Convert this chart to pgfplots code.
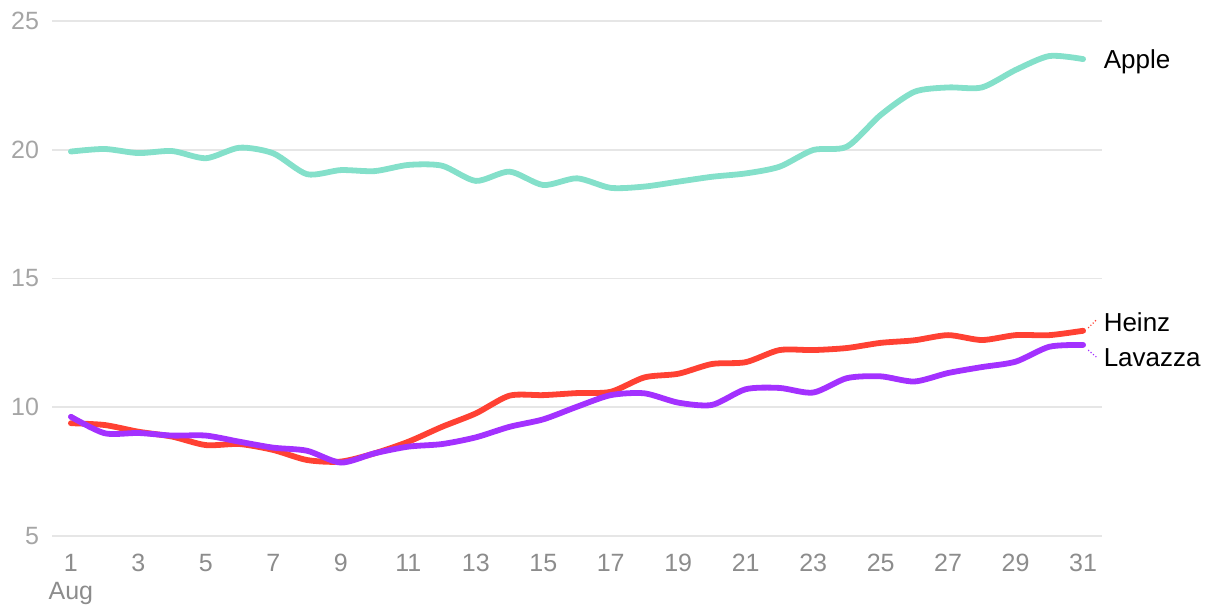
\documentclass[border=0pt]{standalone}
\usepackage{pgfplots}
\pgfplotsset{compat=1.18}
\usepackage{fontspec}
\setmainfont{Liberation Sans}
\definecolor{cApple}{HTML}{84E0CA}
\definecolor{cHeinz}{HTML}{FF4133}
\definecolor{cLav}{HTML}{A331FF}
\definecolor{gridc}{HTML}{E6E6E6}
\definecolor{ytc}{HTML}{A5A5A5}
\definecolor{xtc}{HTML}{8C8C8C}
\begin{document}
\begin{tikzpicture}
\begin{axis}[
  name=ax,
  scale only axis,
  width=525pt, height=257.5pt,
  xmin=0.44, xmax=31.56, ymin=5, ymax=25,
  xtick={1,3,...,31}, ytick={5,10,...,25},
  major tick length=0pt,
  axis line style={draw=none},
  ymajorgrids, xmajorgrids=false,
  grid style={gridc, line width=0.9pt},
  /pgf/number format/assume math mode=true,
  xticklabel style={anchor=center, yshift=-13.5pt, font=\fontsize{12.5}{14}\selectfont, text=xtc},
  yticklabel style={anchor=east, xshift=-3pt, font=\fontsize{12.5}{14}\selectfont, text=ytc},
  clip=false,
  every axis plot/.append style={line width=2.9pt, smooth, tension=0.45, line cap=round, line join=round},
]
\addplot[cApple] coordinates {
(1,19.93)(2,20.03)(3,19.87)(4,19.95)(5,19.67)(6,20.08)(7,19.86)(8,19.05)(9,19.21)(10,19.17)
(11,19.41)(12,19.38)(13,18.79)(14,19.15)(15,18.63)(16,18.89)(17,18.52)(18,18.57)(19,18.76)(20,18.95)
(21,19.08)(22,19.34)(23,19.99)(24,20.12)(25,21.35)(26,22.25)(27,22.42)(28,22.42)(29,23.1)(30,23.64)(31,23.52)};
\addplot[cHeinz] coordinates {
(1,9.38)(2,9.31)(3,9.05)(4,8.86)(5,8.53)(6,8.57)(7,8.34)(8,7.95)(9,7.89)(10,8.21)
(11,8.66)(12,9.24)(13,9.76)(14,10.45)(15,10.47)(16,10.55)(17,10.6)(18,11.16)(19,11.3)(20,11.68)
(21,11.75)(22,12.22)(23,12.22)(24,12.3)(25,12.5)(26,12.6)(27,12.8)(28,12.61)(29,12.8)(30,12.8)(31,12.97)};
\addplot[cLav] coordinates {
(1,9.63)(2,8.99)(3,9.0)(4,8.9)(5,8.9)(6,8.66)(7,8.43)(8,8.31)(9,7.85)(10,8.21)
(11,8.47)(12,8.57)(13,8.83)(14,9.24)(15,9.53)(16,10.02)(17,10.47)(18,10.54)(19,10.18)(20,10.09)
(21,10.7)(22,10.75)(23,10.57)(24,11.13)(25,11.2)(26,11.0)(27,11.33)(28,11.56)(29,11.77)(30,12.35)(31,12.42)};
\draw[cHeinz, densely dotted, line width=0.6pt] (axis cs:31.15,13.08) -- (axis cs:31.39,13.39);
\draw[cLav, densely dotted, line width=0.6pt] (axis cs:31.15,12.22) -- (axis cs:31.39,11.95);
\node[anchor=west, inner sep=0pt, font=\fontsize{13}{15}\selectfont] at (axis cs:31.6,23.41) {Apple};
\node[anchor=west, inner sep=0pt, font=\fontsize{13}{15}\selectfont] at (axis cs:31.6,13.31) {Heinz};
\node[anchor=west, inner sep=0pt, font=\fontsize{13}{15}\selectfont] at (axis cs:31.6,11.91) {Lavazza};
\node[anchor=center, inner sep=0pt, text=xtc, font=\fontsize{12.5}{14}\selectfont] at ([yshift=-28.5pt]axis cs:1,5) {Aug};
\end{axis}
\pgfresetboundingbox
\path ([xshift=-26pt,yshift=-39pt]ax.south west) rectangle ([xshift=59pt,yshift=10.5pt]ax.north east);
\end{tikzpicture}
\end{document}
